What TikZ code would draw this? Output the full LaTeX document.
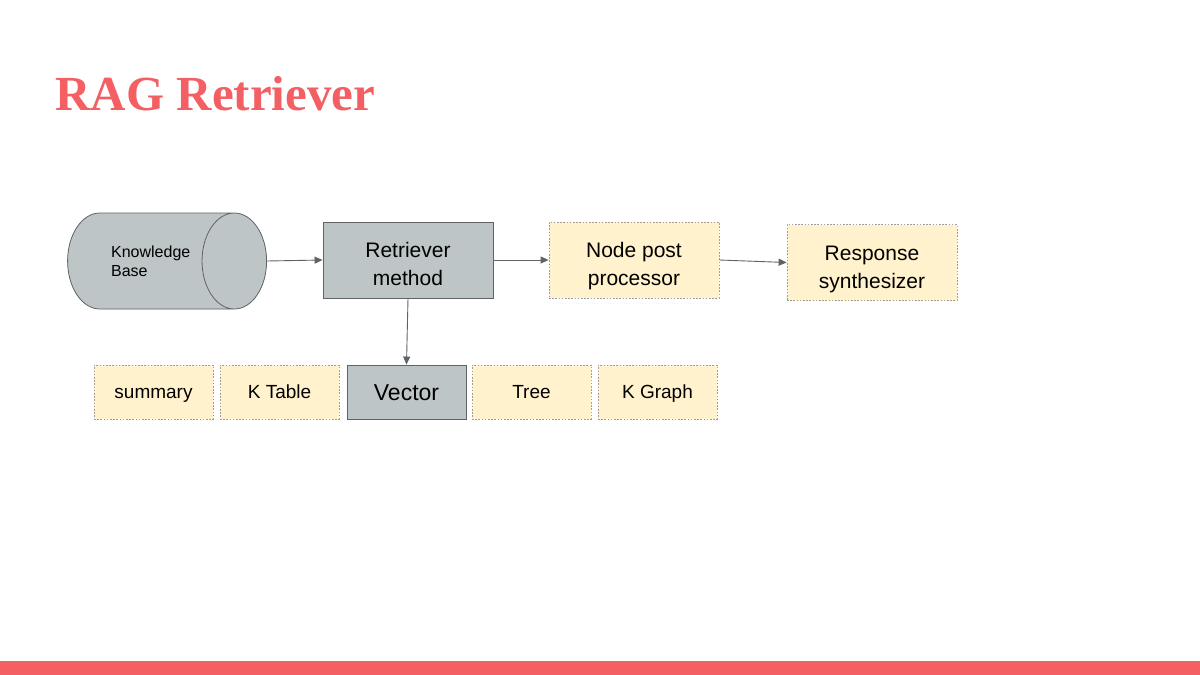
\documentclass[tikz,border=0pt]{standalone}
\usepackage{fontspec}
\setmainfont{Liberation Sans}
\newfontfamily\titlefont{Liberation Serif}
\usetikzlibrary{positioning,shapes.geometric,arrows.meta}
\definecolor{coral}{HTML}{F45F63}
\definecolor{slate}{HTML}{BEC5C7}
\definecolor{cream}{HTML}{FFF2CC}
\definecolor{edge}{HTML}{5F6368}
\definecolor{dotline}{HTML}{9E9E9E}
\newcommand\boxstrut{\rule[-0.25em]{0pt}{1.22em}}
\newcommand\tallstrut{\rule[-0.25em]{0pt}{1.6em}}

\begin{document}
\begin{tikzpicture}[x=1pt,y=-1pt,
    graybox/.style={draw=edge,fill=slate,line width=0.9pt,align=center,inner sep=0pt},
    notebox/.style={draw=dotline,fill=cream,line width=0.8pt,dash pattern=on 1.6pt off 1.6pt,align=center,inner sep=0pt},
    bigbox/.style={execute at end node=\boxstrut,minimum width=170pt,minimum height=76pt,font=\fontsize{21}{28}\selectfont},
    kindbox/.style={execute at begin node=\boxstrut,execute at end node=\boxstrut,minimum width=119pt,minimum height=54pt,font=\fontsize{19}{22}\selectfont},
    flow/.style={draw=edge,line width=0.9pt,-{Triangle[length=8pt,width=7pt]}}]
        \useasboundingbox (0,0) rectangle (1200,675);
        \node[anchor=base west,text=coral,font=\titlefont\bfseries\fontsize{49}{55}\selectfont] (title) at (52,110) {RAG Retriever};
        % pipeline
        \node[cylinder,draw=edge,line width=0.8pt,fill=slate,cylinder uses custom fill,cylinder body fill=slate,cylinder end fill=slate,
              aspect=2.1,minimum width=96pt,minimum height=199pt,inner sep=0pt,align=left,anchor=east,
              font=\fontsize{16}{19}\selectfont] (kb) at (267,261) {Knowledge\\Base};
        \node[graybox,bigbox] (retr) at (408,260) {\tallstrut Retriever\\method};
        \node[notebox,bigbox] (post) at (634,260) {\tallstrut Node post\\processor};
        \node[notebox,bigbox] (resp) at (872,262.5) {\tallstrut Response\\synthesizer};
        % index kinds
        \node[notebox,kindbox] (summ) at (153.5,392) {summary};
        \node[notebox,kindbox] (ktab) at (279.5,392) {K Table};
        \node[graybox,kindbox,font=\fontsize{23}{26}\selectfont] (vec) at (406.5,392) {Vector};
        \node[notebox,kindbox] (tree) at (531.5,392) {Tree};
        \node[notebox,kindbox] (kgra) at (657.5,392) {K Graph};
        \draw[flow] (kb.east) -- (retr.west);
        \draw[flow] (retr.east) -- (post.west);
        \draw[flow] (post.east) -- (resp.west);
        \draw[flow] (retr.south) -- (vec.north);
        \fill[coral] (0,661) rectangle (1200,675);
      \end{tikzpicture}
\end{document}
